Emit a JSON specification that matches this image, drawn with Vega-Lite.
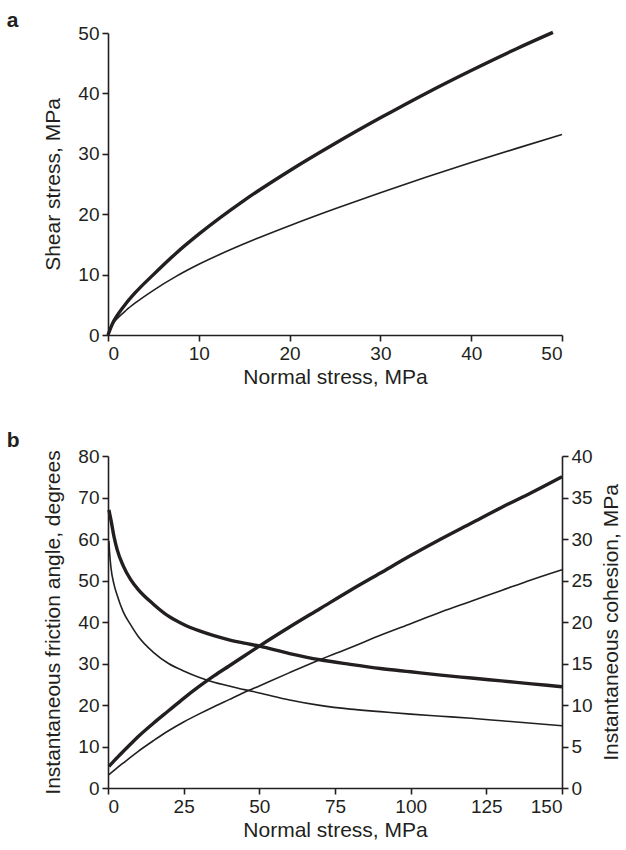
{
  "$schema": "https://vega.github.io/schema/vega-lite/v6.json",
  "background": "white",
  "padding": {"left": 6, "top": 10, "right": 0, "bottom": 0},
  "spacing": 43,
  "config": {
    "font": "Liberation Sans",
    "view": {"stroke": null},
    "axis": {
      "grid": false,
      "domainColor": "#231f20",
      "domainWidth": 1.6,
      "tickColor": "#231f20",
      "tickWidth": 1.6,
      "tickSize": 6,
      "labelFont": "Liberation Sans",
      "labelFontSize": 19,
      "labelColor": "#231f20",
      "labelPadding": 3,
      "titleFont": "Liberation Sans",
      "titleFontSize": 21,
      "titleFontWeight": "normal",
      "titleColor": "#231f20"
    },
    "title": {"font": "Liberation Sans", "fontSize": 21, "fontWeight": "bold", "color": "#231f20"}
  },
  "vconcat": [
    {
      "title": {"text": "a", "anchor": "start", "frame": "bounds", "dx": -36, "dy": 7, "offset": 0},
      "width": 454,
      "height": 302,
      "data": {"values": [
        {"rock": "A", "sigma": 0, "tau": 0},
        {"rock": "A", "sigma": 0.5, "tau": 1.9},
        {"rock": "A", "sigma": 1, "tau": 3.2},
        {"rock": "A", "sigma": 2, "tau": 5.25},
        {"rock": "A", "sigma": 3, "tau": 7.0},
        {"rock": "A", "sigma": 5, "tau": 10.0},
        {"rock": "A", "sigma": 7.5, "tau": 13.55},
        {"rock": "A", "sigma": 10, "tau": 16.7},
        {"rock": "A", "sigma": 15, "tau": 22.3},
        {"rock": "A", "sigma": 20, "tau": 27.2},
        {"rock": "A", "sigma": 25, "tau": 31.7},
        {"rock": "A", "sigma": 30, "tau": 35.95},
        {"rock": "A", "sigma": 35, "tau": 40.0},
        {"rock": "A", "sigma": 40, "tau": 43.8},
        {"rock": "A", "sigma": 45, "tau": 47.4},
        {"rock": "A", "sigma": 49, "tau": 50.1},
        {"rock": "B", "sigma": 0, "tau": 0},
        {"rock": "B", "sigma": 0.5, "tau": 1.8},
        {"rock": "B", "sigma": 1, "tau": 2.7},
        {"rock": "B", "sigma": 2, "tau": 4.1},
        {"rock": "B", "sigma": 3, "tau": 5.3},
        {"rock": "B", "sigma": 5, "tau": 7.4},
        {"rock": "B", "sigma": 7.5, "tau": 9.7},
        {"rock": "B", "sigma": 10, "tau": 11.7},
        {"rock": "B", "sigma": 15, "tau": 15.1},
        {"rock": "B", "sigma": 20, "tau": 18.1},
        {"rock": "B", "sigma": 25, "tau": 20.9},
        {"rock": "B", "sigma": 30, "tau": 23.55},
        {"rock": "B", "sigma": 35, "tau": 26.1},
        {"rock": "B", "sigma": 40, "tau": 28.55},
        {"rock": "B", "sigma": 45, "tau": 30.9},
        {"rock": "B", "sigma": 50, "tau": 33.2}
      ]},
      "mark": {"type": "line", "color": "#231f20", "interpolate": "monotone"},
      "encoding": {
        "x": {"field": "sigma", "type": "quantitative", "scale": {"domain": [0, 50], "nice": false},
              "axis": {"values": [0, 10, 20, 30, 40, 50], "title": "Normal stress, MPa", "titlePadding": 3}},
        "y": {"field": "tau", "type": "quantitative", "scale": {"domain": [0, 50], "nice": false},
              "axis": {"values": [0, 10, 20, 30, 40, 50], "title": "Shear stress, MPa", "titlePadding": 14}},
        "strokeWidth": {"field": "rock", "type": "ordinal", "scale": {"domain": ["A", "B"], "range": [3.4, 1.6]}, "legend": null},
        "detail": {"field": "rock"}
      }
    },
    {
      "title": {"text": "b", "anchor": "start", "frame": "bounds", "dx": -36, "dy": 4, "offset": 0},
      "width": 454,
      "height": 332,
      "data": {"values": [
        {"rock": "A", "sigma": 0.3, "phi": 67.0, "c": 2.6},
        {"rock": "A", "sigma": 0.5, "phi": 66.3, "c": 2.68},
        {"rock": "A", "sigma": 1, "phi": 64.5, "c": 2.88},
        {"rock": "A", "sigma": 2, "phi": 60.5, "c": 3.27},
        {"rock": "A", "sigma": 3, "phi": 57.5, "c": 3.65},
        {"rock": "A", "sigma": 5, "phi": 53.6, "c": 4.4},
        {"rock": "A", "sigma": 7.5, "phi": 50.2, "c": 5.3},
        {"rock": "A", "sigma": 10, "phi": 47.8, "c": 6.2},
        {"rock": "A", "sigma": 15, "phi": 44.3, "c": 7.8},
        {"rock": "A", "sigma": 20, "phi": 41.4, "c": 9.3},
        {"rock": "A", "sigma": 25, "phi": 39.4, "c": 10.8},
        {"rock": "A", "sigma": 30, "phi": 37.9, "c": 12.2},
        {"rock": "A", "sigma": 35, "phi": 36.7, "c": 13.5},
        {"rock": "A", "sigma": 40, "phi": 35.7, "c": 14.7},
        {"rock": "A", "sigma": 45, "phi": 34.9, "c": 15.9},
        {"rock": "A", "sigma": 50, "phi": 34.2, "c": 17.1},
        {"rock": "A", "sigma": 60, "phi": 32.4, "c": 19.4},
        {"rock": "A", "sigma": 70, "phi": 30.9, "c": 21.6},
        {"rock": "A", "sigma": 80, "phi": 29.8, "c": 23.8},
        {"rock": "A", "sigma": 90, "phi": 28.8, "c": 25.9},
        {"rock": "A", "sigma": 100, "phi": 28.0, "c": 28.0},
        {"rock": "A", "sigma": 110, "phi": 27.2, "c": 30.0},
        {"rock": "A", "sigma": 120, "phi": 26.5, "c": 31.9},
        {"rock": "A", "sigma": 130, "phi": 25.8, "c": 33.8},
        {"rock": "A", "sigma": 140, "phi": 25.1, "c": 35.6},
        {"rock": "A", "sigma": 150, "phi": 24.4, "c": 37.5},
        {"rock": "B", "sigma": 0.3, "phi": 59.5, "c": 1.6},
        {"rock": "B", "sigma": 0.5, "phi": 57.0, "c": 1.67},
        {"rock": "B", "sigma": 1, "phi": 53.0, "c": 1.82},
        {"rock": "B", "sigma": 2, "phi": 49.0, "c": 2.12},
        {"rock": "B", "sigma": 3, "phi": 46.5, "c": 2.42},
        {"rock": "B", "sigma": 5, "phi": 42.5, "c": 3.0},
        {"rock": "B", "sigma": 7.5, "phi": 39.3, "c": 3.72},
        {"rock": "B", "sigma": 10, "phi": 36.5, "c": 4.42},
        {"rock": "B", "sigma": 15, "phi": 32.7, "c": 5.7},
        {"rock": "B", "sigma": 20, "phi": 30.0, "c": 6.9},
        {"rock": "B", "sigma": 25, "phi": 28.2, "c": 7.95},
        {"rock": "B", "sigma": 30, "phi": 26.7, "c": 8.9},
        {"rock": "B", "sigma": 35, "phi": 25.5, "c": 9.8},
        {"rock": "B", "sigma": 40, "phi": 24.6, "c": 10.65},
        {"rock": "B", "sigma": 45, "phi": 23.7, "c": 11.5},
        {"rock": "B", "sigma": 50, "phi": 22.9, "c": 12.3},
        {"rock": "B", "sigma": 60, "phi": 21.2, "c": 13.9},
        {"rock": "B", "sigma": 70, "phi": 19.9, "c": 15.45},
        {"rock": "B", "sigma": 80, "phi": 19.0, "c": 16.9},
        {"rock": "B", "sigma": 90, "phi": 18.4, "c": 18.4},
        {"rock": "B", "sigma": 100, "phi": 17.8, "c": 19.8},
        {"rock": "B", "sigma": 110, "phi": 17.3, "c": 21.2},
        {"rock": "B", "sigma": 120, "phi": 16.8, "c": 22.5},
        {"rock": "B", "sigma": 130, "phi": 16.2, "c": 23.8},
        {"rock": "B", "sigma": 140, "phi": 15.6, "c": 25.1},
        {"rock": "B", "sigma": 150, "phi": 15.0, "c": 26.3}
      ]},
      "encoding": {
        "x": {"field": "sigma", "type": "quantitative", "scale": {"domain": [0, 150], "nice": false},
              "axis": {"values": [0, 25, 50, 75, 100, 125, 150], "title": "Normal stress, MPa", "titlePadding": 3}},
        "strokeWidth": {"field": "rock", "type": "ordinal", "scale": {"domain": ["A", "B"], "range": [3.4, 1.6]}, "legend": null},
        "detail": {"field": "rock"}
      },
      "layer": [
        {
          "mark": {"type": "line", "color": "#231f20", "interpolate": "monotone"},
          "encoding": {
            "y": {"field": "phi", "type": "quantitative", "scale": {"domain": [0, 80], "nice": false},
                  "axis": {"values": [0, 10, 20, 30, 40, 50, 60, 70, 80], "title": "Instantaneous friction angle, degrees", "titlePadding": 14}}
          }
        },
        {
          "mark": {"type": "line", "color": "#231f20", "interpolate": "monotone"},
          "encoding": {
            "y": {"field": "c", "type": "quantitative", "scale": {"domain": [0, 40], "nice": false},
                  "axis": {"orient": "right", "values": [0, 5, 10, 15, 20, 25, 30, 35, 40], "title": "Instantaneous cohesion, MPa", "titleAngle": 270, "titleBaseline": "top", "titlePadding": 8}}
          }
        }
      ],
      "resolve": {"scale": {"y": "independent"}}
    }
  ]
}
